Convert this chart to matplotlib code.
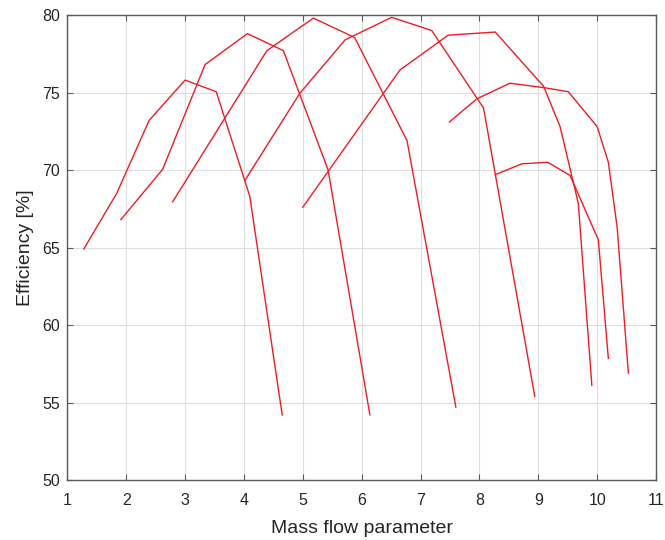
import matplotlib
matplotlib.use("Agg")
import matplotlib.pyplot as plt

plt.rcParams['font.family'] = ['Liberation Sans', 'DejaVu Sans']

# Constant-speed lines: mass flow parameter vs isentropic efficiency
speed_lines = {
    "N1": ([1.28, 1.84, 2.39, 3.00, 3.53, 4.10, 4.65],
           [64.9, 68.5, 73.2, 75.8, 75.05, 68.3, 54.2]),
    "N2": ([1.91, 2.62, 3.34, 4.06, 4.67, 5.43, 6.14],
           [66.8, 70.05, 76.8, 78.8, 77.7, 70.0, 54.2]),
    "N3": ([2.79, 4.39, 5.18, 5.88, 6.77, 7.60],
           [67.95, 77.7, 79.8, 78.55, 71.9, 54.7]),
    "N4": ([4.02, 4.95, 5.72, 6.51, 7.19, 8.07, 8.94],
           [69.35, 74.95, 78.4, 79.85, 79.0, 74.0, 55.4]),
    "N5": ([5.00, 6.65, 7.47, 8.27, 9.09, 9.37, 9.68, 9.91],
           [67.6, 76.45, 78.7, 78.9, 75.4, 72.8, 67.85, 56.1]),
    "N6": ([7.49, 7.96, 8.52, 9.12, 9.51, 10.00, 10.19, 10.34, 10.53],
           [73.1, 74.6, 75.6, 75.3, 75.05, 72.8, 70.5, 66.3, 56.9]),
    "N7": ([8.27, 8.72, 9.16, 9.54, 10.02, 10.19],
           [69.7, 70.4, 70.5, 69.65, 65.5, 57.85]),
}

x_ticks = list(range(1, 12))
y_ticks = list(range(50, 81, 5))

fig = plt.figure(figsize=(6.65, 5.4), dpi=100)
ax = fig.add_axes([0.1012, 0.1111, 0.8853, 0.8611])

for name, (xs, ys) in speed_lines.items():
    ax.plot(xs, ys, color='#ee1c24', linewidth=1.0)

ax.set_xlim(1, 11)
ax.set_ylim(50, 80)
ax.set_xticks(x_ticks)
ax.set_yticks(y_ticks)
ax.grid(True, color='#dedede', linewidth=0.8)
ax.set_axisbelow(True)

for side in ax.spines.values():
    side.set_color('#5a5a5a')
    side.set_linewidth(1.0)

ax.tick_params(direction='in', top=True, right=True, length=4,
               color='#5a5a5a', labelcolor='#262626', labelsize=11.5)
ax.tick_params(axis='x', pad=9)
ax.tick_params(axis='y', pad=5)
ax.set_xlabel('Mass flow parameter', fontsize=14, color='#262626', labelpad=9)
ax.set_ylabel('Efficiency [%]', fontsize=14, color='#262626', labelpad=6)

fig.savefig('out.png', dpi=100)
